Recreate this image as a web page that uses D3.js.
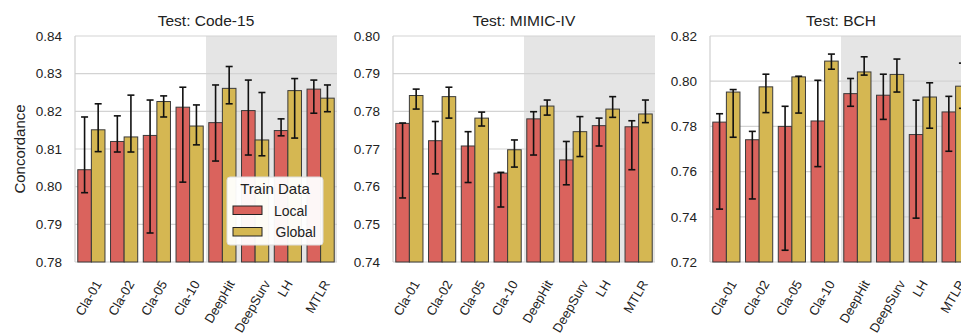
<!DOCTYPE html>
<html>
<head>
<meta charset="utf-8">
<script src="https://cdn.jsdelivr.net/npm/d3@7"></script>
<style>
  body { margin: 0; background: #fff; }
  svg { display: block; font-family: "Liberation Sans", Arial, sans-serif; }
</style>
</head>
<body>
<svg id="chart" width="961" height="335"></svg>
<script>
const categories = ["Cla-01", "Cla-02", "Cla-05", "Cla-10", "DeepHit", "DeepSurv", "LH", "MTLR"];
const seriesNames = ["Local", "Global"];

// Test: Code-15
const code15LocalMean  = [0.8045, 0.8120, 0.8136, 0.8211, 0.8170, 0.8202, 0.8149, 0.8259];
const code15LocalLo    = [0.7984, 0.8092, 0.7877, 0.8012, 0.8068, 0.8084, 0.8135, 0.8195];
const code15LocalHi    = [0.8185, 0.8188, 0.8230, 0.8264, 0.8270, 0.8283, 0.8180, 0.8283];
const code15GlobalMean = [0.8151, 0.8132, 0.8226, 0.8161, 0.8261, 0.8124, 0.8255, 0.8235];
const code15GlobalLo   = [0.8093, 0.8092, 0.8185, 0.8111, 0.8220, 0.8082, 0.8129, 0.8199];
const code15GlobalHi   = [0.8220, 0.8243, 0.8241, 0.8217, 0.8319, 0.8250, 0.8287, 0.8270];
const code15Ticks = [0.78, 0.79, 0.80, 0.81, 0.82, 0.83, 0.84];

// Test: MIMIC-IV
const mimicLocalMean  = [0.7768, 0.7722, 0.7708, 0.7636, 0.7780, 0.7671, 0.7762, 0.7759];
const mimicLocalLo    = [0.7570, 0.7634, 0.7611, 0.7546, 0.7684, 0.7605, 0.7708, 0.7645];
const mimicLocalHi    = [0.7769, 0.7773, 0.7746, 0.7638, 0.7799, 0.7720, 0.7782, 0.7775];
const mimicGlobalMean = [0.7842, 0.7839, 0.7782, 0.7698, 0.7814, 0.7746, 0.7806, 0.7793];
const mimicGlobalLo   = [0.7806, 0.7782, 0.7761, 0.7652, 0.7790, 0.7680, 0.7784, 0.7770];
const mimicGlobalHi   = [0.7859, 0.7864, 0.7798, 0.7724, 0.7830, 0.7786, 0.7839, 0.7830];
const mimicTicks = [0.74, 0.75, 0.76, 0.77, 0.78, 0.79, 0.80];

// Test: BCH
const bchLocalMean  = [0.7819, 0.7741, 0.7800, 0.7824, 0.7945, 0.7938, 0.7764, 0.7864];
const bchLocalLo    = [0.7434, 0.7479, 0.7252, 0.7622, 0.7889, 0.7831, 0.7394, 0.7690];
const bchLocalHi    = [0.7856, 0.7778, 0.7889, 0.8004, 0.8012, 0.8031, 0.7916, 0.7933];
const bchGlobalMean = [0.7952, 0.7975, 0.8019, 0.8089, 0.8041, 0.8030, 0.7930, 0.7978];
const bchGlobalLo   = [0.7752, 0.7861, 0.7859, 0.8053, 0.8027, 0.7952, 0.7792, 0.7880];
const bchGlobalHi   = [0.7963, 0.8031, 0.8022, 0.8120, 0.8108, 0.8098, 0.7993, 0.8080];
const bchTicks = [0.72, 0.74, 0.76, 0.78, 0.80, 0.82];

const COLORS = {Local: "#da635d", Global: "#d5b752"};

const panels = [
    {title: "Test: Code-15", left: 75, ticks: code15Ticks, fmt: ".2f",
     local: [code15LocalMean, code15LocalLo, code15LocalHi],
     global: [code15GlobalMean, code15GlobalLo, code15GlobalHi], legend: true},
    {title: "Test: MIMIC-IV", left: 393, ticks: mimicTicks, fmt: ".2f",
     local: [mimicLocalMean, mimicLocalLo, mimicLocalHi],
     global: [mimicGlobalMean, mimicGlobalLo, mimicGlobalHi]},
    {title: "Test: BCH", left: 710, ticks: bchTicks, fmt: ".2f",
     local: [bchLocalMean, bchLocalLo, bchLocalHi],
     global: [bchGlobalMean, bchGlobalLo, bchGlobalHi]}
];

const plotTop = 36, plotH = 226, plotW = 262;
const LABEL_ANGLE = 60, LABEL_SIZE = 13;
const svg = d3.select("#chart");

// y label
svg.append("text")
    .attr("transform", `translate(25, ${plotTop + plotH / 2}) rotate(-90)`)
    .attr("text-anchor", "middle")
    .style("font-size", "15px")
    .attr("fill", "#222")
    .text("Concordance");

panels.forEach(p => {
    const g = svg.append("g").attr("transform", `translate(${p.left},${plotTop})`);

    const x = d3.scaleBand().domain(categories).range([0, plotW])
        .paddingInner(0.17).paddingOuter(0.085);
    const xs = d3.scaleBand().domain(seriesNames).range([0, x.bandwidth()]);
    const y = d3.scaleLinear().domain([p.ticks[0], p.ticks[p.ticks.length - 1]]).range([plotH, 0]);
    const step = x.step();

    // gray shading for the deep-learning models
    const shadeStart = x("DeepHit") - step * x.paddingInner() / 2;
    g.append("rect")
        .attr("x", shadeStart).attr("y", 0)
        .attr("width", plotW - shadeStart).attr("height", plotH)
        .attr("fill", "#e5e5e5");

    // grid
    g.append("g")
        .selectAll("line").data(p.ticks).enter().append("line")
        .attr("x1", 0).attr("x2", plotW)
        .attr("y1", d => y(d)).attr("y2", d => y(d))
        .attr("stroke", "#d3d3d3").attr("stroke-width", 1.2);

    // frame
    g.append("line").attr("x1", 0).attr("x2", 0).attr("y1", 0).attr("y2", plotH)
        .attr("stroke", "#cfcfcf").attr("stroke-width", 1.2);

    // y axis
    const yAxis = d3.axisLeft(y).tickValues(p.ticks).tickFormat(d3.format(p.fmt)).tickSize(0).tickPadding(13);
    g.append("g").call(yAxis)
        .call(a => a.select(".domain").remove())
        .selectAll("text").style("font-size", "13.5px").attr("fill", "#222");

    // bars
    const rows = categories.map((c, i) => ({
        cat: c,
        vals: [
            {s: "Local", m: p.local[0][i], lo: p.local[1][i], hi: p.local[2][i]},
            {s: "Global", m: p.global[0][i], lo: p.global[1][i], hi: p.global[2][i]}
        ]
    }));

    const grp = g.append("g").selectAll("g").data(rows).enter().append("g")
        .attr("transform", d => `translate(${x(d.cat)},0)`);

    grp.selectAll("rect").data(d => d.vals).enter().append("rect")
        .attr("x", d => xs(d.s)).attr("y", d => y(d.m))
        .attr("width", xs.bandwidth()).attr("height", d => plotH - y(d.m))
        .attr("fill", d => COLORS[d.s])
        .attr("stroke", "#3a3a3a").attr("stroke-width", 1);

    const err = grp.selectAll("g.err").data(d => d.vals).enter().append("g").attr("class", "err")
        .attr("transform", d => `translate(${xs(d.s) + xs.bandwidth() / 2},0)`);
    err.append("line").attr("y1", d => y(d.lo)).attr("y2", d => y(d.hi))
        .attr("stroke", "#111").attr("stroke-width", 1.6);
    err.append("line").attr("x1", -3.5).attr("x2", 3.5).attr("y1", d => y(d.lo)).attr("y2", d => y(d.lo))
        .attr("stroke", "#111").attr("stroke-width", 1.6);
    err.append("line").attr("x1", -3.5).attr("x2", 3.5).attr("y1", d => y(d.hi)).attr("y2", d => y(d.hi))
        .attr("stroke", "#111").attr("stroke-width", 1.6);

    // x labels: rotated, box centred under the group, top of box at a fixed gap
    const rad = LABEL_ANGLE * Math.PI / 180;
    const capH = LABEL_SIZE * 0.72;
    g.append("g").selectAll("text").data(categories).enter().append("text")
        .attr("text-anchor", "middle")
        .attr("dy", "0.36em")
        .style("font-size", LABEL_SIZE + "px")
        .attr("fill", "#222")
        .text(d => d)
        .each(function(d) {
            const len = this.getComputedTextLength();
            const boxH = len * Math.sin(rad) + capH * Math.cos(rad);
            const cx = x(d) + x.bandwidth() / 2 - 3;
            const cy = plotH + 17 + boxH / 2;
            d3.select(this).attr("transform", `translate(${cx},${cy}) rotate(${-LABEL_ANGLE})`);
        });

    // title
    g.append("text")
        .attr("x", plotW / 2).attr("y", -10)
        .attr("text-anchor", "middle")
        .style("font-size", "15.5px")
        .attr("fill", "#222")
        .text(p.title);

    if (p.legend) {
        const lg = g.append("g").attr("transform", "translate(152,141)");
        lg.append("rect").attr("width", 96).attr("height", 68).attr("rx", 3)
            .attr("fill", "#fff").attr("fill-opacity", 0.95)
            .attr("stroke", "#ddd");
        lg.append("text").attr("x", 48).attr("y", 17).attr("text-anchor", "middle")
            .style("font-size", "15px").attr("fill", "#222").text("Train Data");
        seriesNames.forEach((s, i) => {
            lg.append("rect").attr("x", 6).attr("y", 29 + i * 21.5)
                .attr("width", 29).attr("height", 8.5)
                .attr("fill", COLORS[s]).attr("stroke", "#222");
            lg.append("text").attr("x", 47 + i * 1.5).attr("y", 38.5 + i * 21.5)
                .style("font-size", "14px").attr("fill", "#222").text(s);
        });
    }
});
</script>
</body>
</html>
